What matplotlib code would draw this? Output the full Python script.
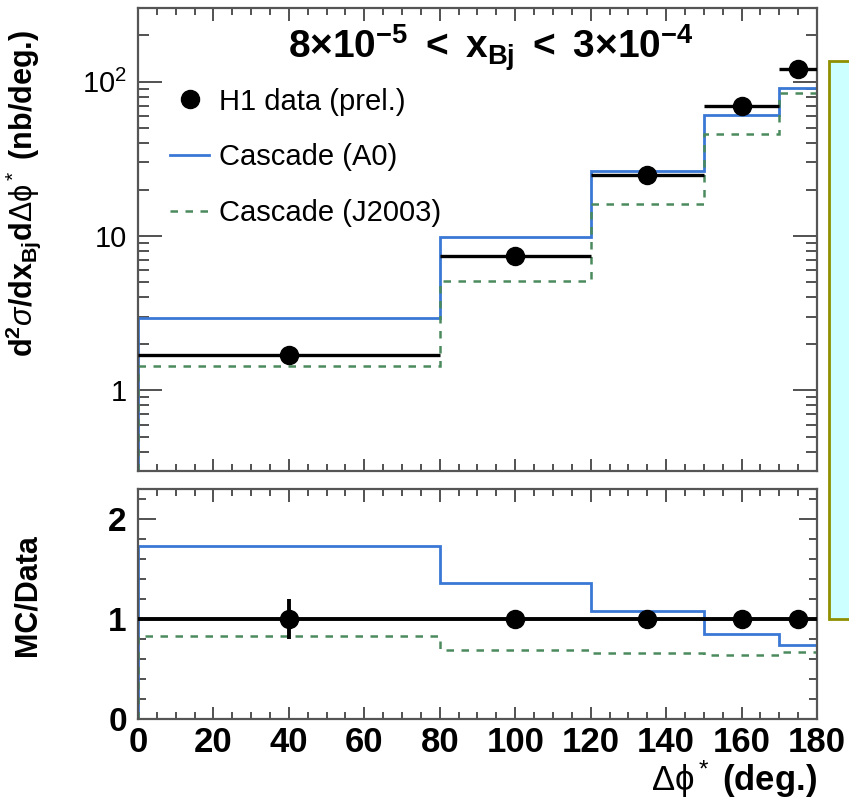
import matplotlib
matplotlib.use('Agg')
import matplotlib.pyplot as plt
import matplotlib.ticker as mticker
from matplotlib.patches import Rectangle
from matplotlib.lines import Line2D
import numpy

plt.rcParams['font.family'] = ['Liberation Sans', 'DejaVu Sans']
plt.rcParams['mathtext.fontset'] = 'custom'
plt.rcParams['mathtext.rm'] = 'Liberation Sans'
plt.rcParams['mathtext.it'] = 'Liberation Sans:italic'
plt.rcParams['mathtext.bf'] = 'Liberation Sans:bold'

# bins in delta phi* (deg.)
edges = [0, 80, 120, 150, 170, 180]
centers = [40, 100, 135, 160, 175]
halfwidth = [40, 20, 15, 10, 5]

# cross section (nb/deg.)
h1_data = [1.7, 7.45, 24.7, 70, 121]
h1_err = [0.12, 0.3, 1.0, 3.0, 6.0]
cascade_a0 = [2.95, 9.9, 26.5, 60.8, 91]
cascade_j2003 = [1.43, 5.13, 16.0, 45.9, 84]

# MC/Data ratios
ratio_data = [1, 1, 1, 1, 1]
ratio_err = [0.2, 0.03, 0.05, 0.05, 0.06]
ratio_a0 = [1.73, 1.36, 1.08, 0.85, 0.74]
ratio_j2003 = [0.83, 0.69, 0.66, 0.64, 0.67]

blue = '#3a78d6'
green = '#4a8a5c'

fig = plt.figure(figsize=(8.49, 8), dpi=100)
ax = fig.add_axes([0.1625, 0.41125, 0.7998, 0.57875])
ax2 = fig.add_axes([0.1625, 0.10125, 0.7998, 0.2875])

# top panel
ax.stairs(cascade_a0, edges, color=blue, lw=2.0, zorder=2)
ax.stairs(cascade_j2003, edges, color=green, lw=1.8, ls=(0, (3, 3)), zorder=2)
ax.errorbar(centers, h1_data, xerr=halfwidth, yerr=h1_err, fmt='o', color='black',
            ms=13, lw=2.4, capsize=0, zorder=3)
ax.set_yscale('log')
ax.set_ylim(0.3, 300)
ax.set_xlim(0, 180)
ax.yaxis.set_major_locator(mticker.FixedLocator([1, 10, 100]))
ax.yaxis.set_major_formatter(mticker.FixedFormatter(['1', '10', r'$10^2$']))
ax.yaxis.set_minor_locator(mticker.LogLocator(base=10, subs=numpy.arange(2, 10)))
ax.yaxis.set_minor_formatter(mticker.NullFormatter())
ax.xaxis.set_major_locator(mticker.MultipleLocator(20))
ax.xaxis.set_minor_locator(mticker.MultipleLocator(5))
ax.tick_params(axis='x', labelbottom=False)
ax.tick_params(axis='y', which='major', labelsize=21, length=17, pad=8)
ax.tick_params(axis='y', which='minor', length=8)
ax.tick_params(axis='x', which='major', length=9)
ax.tick_params(axis='x', which='minor', length=5)
ax.set_ylabel(r'$\mathbf{d^2}\sigma\mathbf{/dx_{Bj}d}\mathrm{\Delta\phi}^*$ (nb/deg.)',
              fontsize=22, fontweight='bold')
ax.yaxis.set_label_coords(-0.14, 0.6)
ax.text(0.52, 0.915, r'$\mathbf{8{\times}10^{-5}\ <\ x_{Bj}\ <\ 3{\times}10^{-4}}$',
        transform=ax.transAxes, fontsize=28, ha='center', va='center')

# legend
handles = [Line2D([], [], marker='o', ls='none', color='black', ms=13),
           Line2D([], [], color=blue, lw=2.0),
           Line2D([], [], color=green, lw=1.8, ls=(0, (3, 3)))]
labels = ['H1 data (prel.)', 'Cascade (A0)', 'Cascade (J2003)']
ax.legend(handles, labels, loc='upper left', bbox_to_anchor=(0.047, 0.828), frameon=False,
          fontsize=21, handlelength=1.35, handletextpad=0.35, labelspacing=0.95,
          borderaxespad=0, borderpad=0)

# bottom panel
ax2.stairs(ratio_a0, edges, color=blue, lw=2.0, zorder=2)
ax2.stairs(ratio_j2003, edges, color=green, lw=1.8, ls=(0, (3, 3)), zorder=2)
ax2.errorbar(centers, ratio_data, xerr=halfwidth, yerr=ratio_err, fmt='o', color='black',
             ms=13, lw=2.8, capsize=0, zorder=3)
ax2.set_xlim(0, 180)
ax2.set_ylim(0, 2.3)
ax2.yaxis.set_major_locator(mticker.MultipleLocator(1))
ax2.yaxis.set_minor_locator(mticker.MultipleLocator(0.2))
ax2.xaxis.set_major_locator(mticker.MultipleLocator(20))
ax2.xaxis.set_minor_locator(mticker.MultipleLocator(5))
ax2.tick_params(axis='x', which='major', labelsize=25, pad=5)
ax2.tick_params(axis='y', which='major', labelsize=24, pad=8)
ax2.tick_params(axis='y', which='major', length=13)
ax2.tick_params(axis='y', which='minor', length=6)
ax2.tick_params(axis='x', which='major', length=9)
ax2.tick_params(axis='x', which='minor', length=5)
for lab in ax2.get_xticklabels() + ax2.get_yticklabels():
    lab.set_fontweight('bold')
ax2.set_ylabel('MC/Data', fontsize=22, fontweight='bold')
ax2.yaxis.set_label_coords(-0.14, 0.54)
ax2.set_xlabel(r'$\mathrm{\Delta\phi}^*$ (deg.)', fontsize=25, fontweight='bold',
               loc='right', labelpad=0)

for a in (ax, ax2):
    a.tick_params(which='both', direction='in', top=True, right=True, color='#333333', width=1.2)
    for s in a.spines.values():
        s.set_color('#555555')
        s.set_linewidth(1.6)

# cyan box on the right edge
fig.patches.append(Rectangle((829 / 849, 1 - 619 / 800), 0.05, (619 - 61) / 800,
                             transform=fig.transFigure, facecolor='#ccffff',
                             edgecolor='#8f8f00', lw=2, zorder=5))

plt.savefig('out.png', dpi=100)
